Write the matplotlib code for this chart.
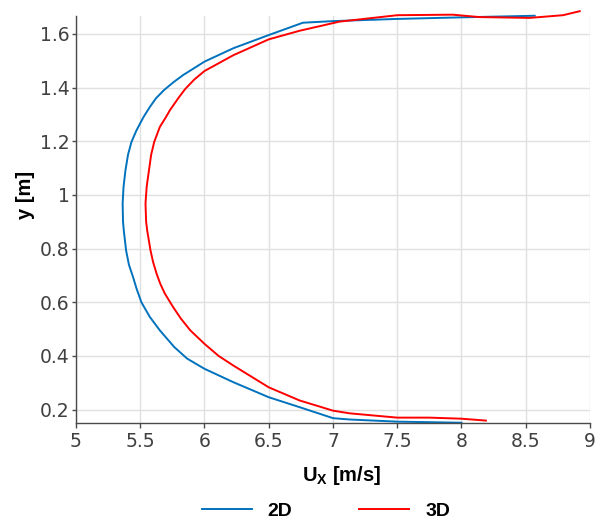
import matplotlib
matplotlib.use("Agg")
import matplotlib.pyplot as plt

# velocity profiles (bottom -> top)
y_2d = [0.151, 0.155, 0.163, 0.168, 0.209, 0.246, 0.302, 0.352, 0.39, 0.433,
        0.495, 0.545, 0.60, 0.65, 0.694, 0.74, 0.793, 0.868, 0.90, 0.968,
        1.03, 1.092, 1.15, 1.198, 1.241, 1.29, 1.328, 1.36, 1.391, 1.42,
        1.447, 1.497, 1.547, 1.596, 1.642, 1.648, 1.656, 1.662, 1.668]
ux_2d = [8.0, 7.5, 7.13, 7.0, 6.74, 6.5, 6.225, 6.0, 5.865, 5.765,
         5.653, 5.575, 5.509, 5.472, 5.444, 5.412, 5.39, 5.372, 5.366, 5.363,
         5.37, 5.385, 5.405, 5.432, 5.471, 5.525, 5.575, 5.622, 5.685, 5.758,
         5.834, 6.0, 6.225, 6.5, 6.766, 7.0, 7.49, 8.0, 8.57]

y_3d = [0.159, 0.166, 0.17, 0.17, 0.186, 0.196, 0.234, 0.283, 0.364, 0.40,
        0.445, 0.495, 0.54, 0.582, 0.632, 0.67, 0.707, 0.75, 0.793, 0.868,
        0.90, 0.968, 1.03, 1.092, 1.15, 1.198, 1.254, 1.29, 1.316, 1.36,
        1.395, 1.43, 1.462, 1.521, 1.58, 1.612, 1.646, 1.67, 1.672, 1.663,
        1.66, 1.67, 1.685]
ux_3d = [8.19, 8.0, 7.75, 7.5, 7.13, 7.0, 6.74, 6.5, 6.225, 6.11,
         6.0, 5.89, 5.815, 5.756, 5.692, 5.655, 5.627, 5.6, 5.58, 5.554,
         5.546, 5.541, 5.55, 5.568, 5.585, 5.609, 5.653, 5.70, 5.731, 5.795,
         5.85, 5.92, 6.0, 6.225, 6.5, 6.74, 7.05, 7.5, 7.93, 8.14,
         8.53, 8.79, 8.92]

x_ticks = [5, 5.5, 6, 6.5, 7, 7.5, 8, 8.5, 9]
x_tick_labels = ["5", "5.5", "6", "6.5", "7", "7.5", "8", "8.5", "9"]
y_ticks = [0.2, 0.4, 0.6, 0.8, 1.0, 1.2, 1.4, 1.6]
y_tick_labels = ["0.2", "0.4", "0.6", "0.8", "1", "1.2", "1.4", "1.6"]

plt.rcParams["mathtext.fontset"] = "custom"
plt.rcParams["mathtext.bf"] = "Liberation Sans:bold"
plt.rcParams["mathtext.rm"] = "Liberation Sans"

fig = plt.figure(figsize=(5.95, 5.25), dpi=100)
ax = fig.add_axes([0.1277, 0.1943, 0.8639, 0.7752])

ax.plot(ux_2d, y_2d, color="#0072BD", lw=1.4, label="2D", clip_on=False)
ax.plot(ux_3d, y_3d, color="#FF0000", lw=1.4, label="3D", clip_on=False)

ax.set_xlim(5, 9)
ax.set_ylim(0.15, 1.667)
ax.set_xticks(x_ticks)
ax.set_xticklabels(x_tick_labels)
ax.set_yticks(y_ticks)
ax.set_yticklabels(y_tick_labels)

ax.grid(True, color="#e0e0e0", lw=1.0)
ax.set_axisbelow(True)
for side in ["top", "right"]:
    ax.spines[side].set_visible(False)
for side in ["left", "bottom"]:
    ax.spines[side].set_color("#4a4a4a")
    ax.spines[side].set_linewidth(1.0)

ax.tick_params(axis="x", direction="out", length=3.6, width=1.0,
               color="#4a4a4a", labelcolor="#404040", labelsize=13.5, pad=3)
ax.tick_params(axis="y", direction="out", length=3, width=1.0,
               color="#4a4a4a", labelcolor="#404040", labelsize=13.5, pad=1.5)

ax.set_xlabel(r"U$_{\mathbf{X}}$ [m/s]", fontsize=14.5, fontweight="bold",
              fontfamily="Liberation Sans")
ax.xaxis.label.set_verticalalignment("center")
ax.xaxis.set_label_coords(0.516, -0.13)
ax.set_ylabel("y [m]", fontsize=14.5, fontweight="bold",
              fontfamily="Liberation Sans")
ax.yaxis.label.set_verticalalignment("center")
ax.yaxis.set_label_coords(-0.099, 0.56)

fig.legend(loc="center", bbox_to_anchor=(326 / 595, 0.027), ncol=2,
           frameon=False, handlelength=2.57, handletextpad=0.82,
           columnspacing=3.45, borderpad=0.2,
           prop={"family": "Liberation Sans", "weight": "bold", "size": 14})

fig.savefig("out.png", dpi=100)
